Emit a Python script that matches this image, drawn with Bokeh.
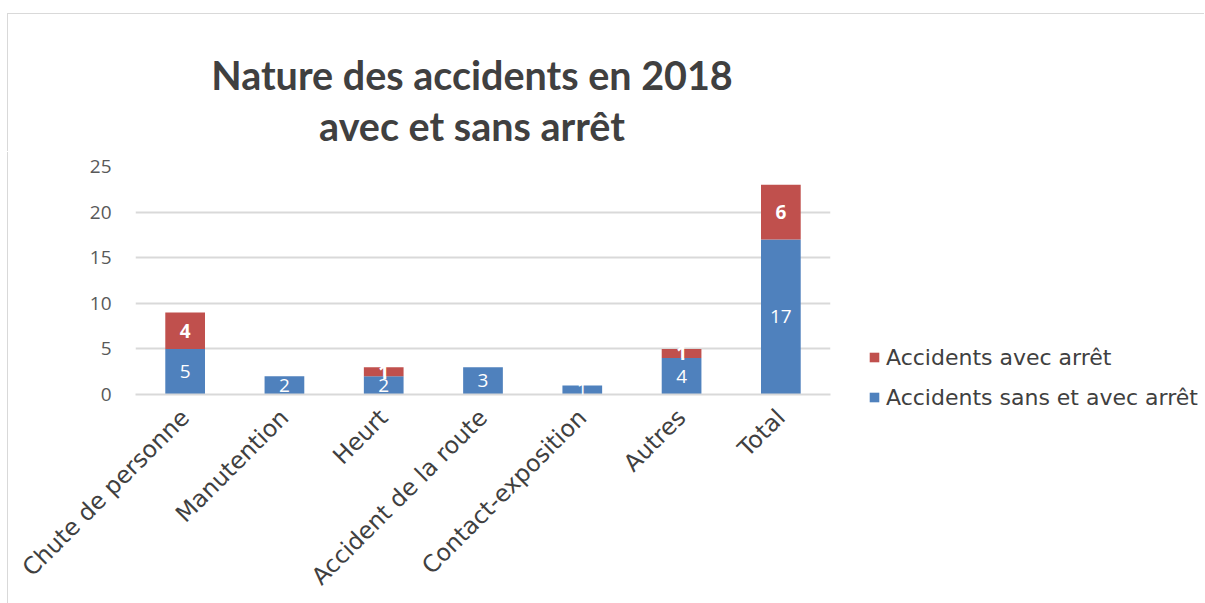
import math

from bokeh.core.properties import value
from bokeh.embed import file_html
from bokeh.layouts import column, row
from bokeh.models import (ColumnDataSource, FactorRange, FixedTicker, Label, LabelSet,
                          Legend, LegendItem, Range1d)
from bokeh.plotting import figure
from bokeh.resources import INLINE

# Accident categories and counts for 2018
categories = ["Chute de personne", "Manutention", "Heurt", "Accident de la route",
              "Contact-exposition", "Autres", "Total"]
sans_et_avec_arret = [5, 2, 2, 3, 1, 4, 17]
avec_arret = [4, 0, 1, 0, 0, 1, 6]
y_ticks = [0, 5, 10, 15, 20, 25]
series_labels = ["Accidents sans et avec arrêt", "Accidents avec arrêt"]
title_lines = ["Nature des accidents en 2018", "avec et sans arrêt"]

BLUE = "#4f81bd"
RED = "#c0504d"
GRID = "#d9d9d9"
TEXT = "#595959"
DARK = "#404040"
LABEL_FONT = "DejaVu Sans"
NUM_FONT = "Open Sans"
TITLE_FONT = "Lato"

src = ColumnDataSource(dict(
    cat=categories,
    sans=sans_et_avec_arret,
    avec=avec_arret,
    sans_mid=[v / 2 for v in sans_et_avec_arret],
    sans_txt=[str(v) for v in sans_et_avec_arret],
))
red_idx = [i for i, v in enumerate(avec_arret) if v > 0]
red_src = ColumnDataSource(dict(
    cat=[categories[i] for i in red_idx],
    mid=[sans_et_avec_arret[i] + avec_arret[i] / 2 for i in red_idx],
    txt=[str(avec_arret[i]) for i in red_idx],
))

# --- title strip -----------------------------------------------------------
TW, TH = 1197, 138
head = figure(width=TW, height=TH, x_range=Range1d(0, TW), y_range=Range1d(0, TH),
              output_backend="svg", toolbar_location=None,
              min_border=0, x_axis_location=None, y_axis_location=None,
              styles={"box-shadow": "-1px -1px 0 #d9d9d9"})
head.grid.visible = False
head.outline_line_color = None
for text, y in zip(title_lines, [77.6, 26.6]):
    head.add_layout(Label(x=463.5, y=y, text=text, text_align="center",
                          text_baseline="alphabetic", text_font=TITLE_FONT,
                          text_font_size="39.5px", text_font_style="bold",
                          text_color=DARK))

# --- main chart --------------------------------------------------------------
CH = 589 - TH
p = figure(
    x_range=FactorRange(*categories), y_range=(0, 25),
    width=832, height=CH,
    output_backend="svg", toolbar_location=None,
    min_border_left=127, min_border_right=10,
    min_border_top=14, min_border_bottom=209,
    styles={"box-shadow": "-1px 0 0 #d9d9d9"},
)
p.outline_line_color = None

r_blue, r_red = p.vbar_stack(["sans", "avec"], x="cat", width=0.4,
                             color=[BLUE, RED], line_color=None, source=src)

# Data labels centred in each segment
p.add_layout(LabelSet(x="cat", y="sans_mid", text="sans_txt", source=src,
                      text_color="white", text_font=value(NUM_FONT), text_font_size="19px",
                      text_align="center", text_baseline="middle"))
p.add_layout(LabelSet(x="cat", y="mid", text="txt", source=red_src,
                      text_color="white", text_font=value(NUM_FONT), text_font_size="19px",
                      text_font_style="bold",
                      text_align="center", text_baseline="middle"))

p.yaxis.ticker = FixedTicker(ticks=y_ticks)
p.yaxis.axis_line_color = None
p.yaxis.major_tick_line_color = None
p.yaxis.minor_tick_line_color = None
p.yaxis.major_label_text_font = NUM_FONT
p.yaxis.major_label_text_font_size = "19px"
p.yaxis.major_label_text_color = TEXT
p.yaxis.major_label_standoff = 18

p.xaxis.axis_line_color = GRID
p.xaxis.axis_line_width = 2
p.xaxis.major_tick_line_color = None
p.xaxis.minor_tick_line_color = None
p.xaxis.major_label_orientation = math.pi / 4
p.xaxis.major_label_text_font = LABEL_FONT
p.xaxis.major_label_text_font_size = "23.5px"
p.xaxis.major_label_text_color = DARK
p.xaxis.major_label_standoff = 13

p.xgrid.grid_line_color = None
p.ygrid.grid_line_color = GRID
p.ygrid.grid_line_width = 2

# --- legend panel --------------------------------------------------------------
side = figure(width=365, height=CH, x_range=FactorRange(*categories),
              y_range=Range1d(0, 1), output_backend="svg", toolbar_location=None,
              min_border=0, x_axis_location=None, y_axis_location=None)
side.frame_align = False
side.grid.visible = False
side.outline_line_color = None
k_blue, k_red = side.vbar_stack(["sans", "avec"], x="cat", width=0.4,
                                color=[BLUE, RED], line_color=None, source=src)
k_blue.visible = False
k_red.visible = False

legend = Legend(items=[LegendItem(label=series_labels[1], renderers=[k_red]),
                       LegendItem(label=series_labels[0], renderers=[k_blue])],
                location=(28, 193))
legend.border_line_color = None
legend.background_fill_alpha = 0
legend.padding = 0
legend.margin = 0
legend.spacing = 14
legend.glyph_width = 12
legend.glyph_height = 12
legend.label_height = 26
legend.label_standoff = 6
legend.label_text_font = LABEL_FONT
legend.label_text_font_size = "22px"
legend.label_text_color = DARK
legend.label_text_baseline = "middle"
side.add_layout(legend, "center")

layout = column(head, row(p, side), margin=(14, 0, 0, 8))

open("out.html", "w").write(file_html(layout, INLINE))
